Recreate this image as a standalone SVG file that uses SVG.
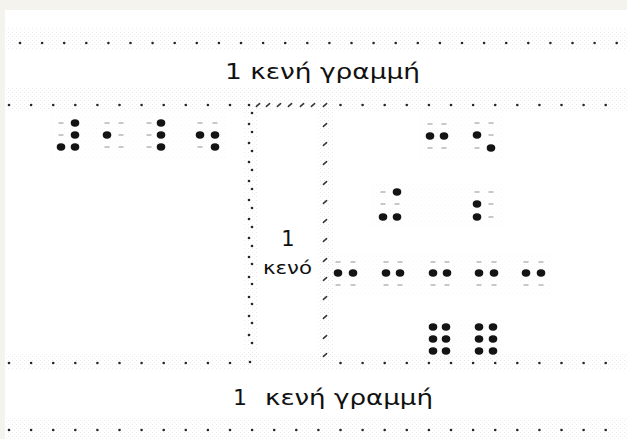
<svg xmlns="http://www.w3.org/2000/svg" width="627" height="439" viewBox="0 0 627 439">
<style>
.t{font-family:"DejaVu Sans","Liberation Sans",sans-serif;fill:#111}
.f{fill:#141414}
.e{fill:#c8c8c8}
.g{fill:#262626}
.s{stroke:#333;stroke-width:1.5;stroke-linecap:round}
.h{fill:url(#hatch);opacity:0.5}
.hc{fill:url(#hatch);opacity:0.22}
</style>
<defs>
<pattern id="hatch" width="4" height="4" patternUnits="userSpaceOnUse">
<rect x="0" y="0" width="1" height="1" fill="#d4d4d4"/>
<rect x="2" y="2" width="1" height="1" fill="#e2e2e2"/>
</pattern>
<ellipse id="F" class="f" cx="0" cy="0" rx="4.3" ry="3.7"/>
<rect id="E" class="e" x="-2.5" y="-1" width="5" height="2"/>
<circle id="G" class="g" cx="0" cy="0" r="1.3"/>
<line id="S" class="s" x1="-1.6" y1="1.4" x2="1.6" y2="-1.4"/>
</defs>

<rect x="0" y="0" width="627" height="439" fill="#f4f3ee"/>
<rect x="5" y="10" width="622" height="429" fill="#ffffff"/>

<g id="texture">
<rect class="h" x="5" y="28" width="622" height="21"/>
<rect class="h" x="5" y="87" width="622" height="24"/>
<rect class="h" x="5" y="354" width="622" height="16"/>
<rect class="h" x="5" y="417" width="622" height="22"/>
<rect class="h" x="243" y="100" width="15" height="265"/>
<rect class="h" x="318" y="100" width="15" height="265"/>
<rect class="hc" x="50" y="112" width="176" height="48"/>
<rect class="hc" x="420" y="112" width="84" height="48"/>
<rect class="hc" x="372" y="182" width="132" height="46"/>
<rect class="hc" x="328" y="252" width="224" height="44"/>
<rect class="hc" x="424" y="317" width="80" height="44"/>
</g>

<g id="row1">
<use href="#G" x="20" y="43"/><use href="#G" x="42.1" y="43"/><use href="#G" x="64.2" y="43"/><use href="#G" x="86.3" y="43"/><use href="#G" x="108.4" y="43"/><use href="#G" x="130.5" y="43"/><use href="#G" x="152.6" y="43"/><use href="#G" x="174.7" y="43"/><use href="#G" x="196.8" y="43"/><use href="#G" x="218.9" y="43"/><use href="#G" x="241" y="43"/><use href="#G" x="263.1" y="43"/><use href="#G" x="285.2" y="43"/><use href="#G" x="307.3" y="43"/><use href="#G" x="329.4" y="43"/><use href="#G" x="351.5" y="43"/><use href="#G" x="373.6" y="43"/><use href="#G" x="395.7" y="43"/><use href="#G" x="417.8" y="43"/><use href="#G" x="439.9" y="43"/><use href="#G" x="462" y="43"/><use href="#G" x="484.1" y="43"/><use href="#G" x="506.2" y="43"/><use href="#G" x="528.3" y="43"/><use href="#G" x="550.4" y="43"/><use href="#G" x="572.5" y="43"/><use href="#G" x="594.6" y="43"/><use href="#G" x="616.7" y="43"/>
</g>

<g id="row2">
<use href="#G" x="9" y="105"/><use href="#G" x="31.1" y="105"/><use href="#G" x="53.2" y="105"/><use href="#G" x="75.3" y="105"/><use href="#G" x="97.4" y="105"/><use href="#G" x="119.5" y="105"/><use href="#G" x="141.6" y="105"/><use href="#G" x="163.7" y="105"/><use href="#G" x="185.8" y="105"/><use href="#G" x="207.9" y="105"/><use href="#G" x="230" y="105"/>
<use href="#G" x="340.5" y="105"/><use href="#G" x="362.6" y="105"/><use href="#G" x="384.7" y="105"/><use href="#G" x="406.8" y="105"/><use href="#G" x="428.9" y="105"/><use href="#G" x="451" y="105"/><use href="#G" x="473.1" y="105"/><use href="#G" x="495.2" y="105"/><use href="#G" x="517.3" y="105"/><use href="#G" x="539.4" y="105"/><use href="#G" x="561.5" y="105"/><use href="#G" x="583.6" y="105"/><use href="#G" x="605.7" y="105"/>
</g>

<g id="row3">
<use href="#G" x="9" y="363"/><use href="#G" x="31.1" y="363"/><use href="#G" x="53.2" y="363"/><use href="#G" x="75.3" y="363"/><use href="#G" x="97.4" y="363"/><use href="#G" x="119.5" y="363"/><use href="#G" x="141.6" y="363"/><use href="#G" x="163.7" y="363"/><use href="#G" x="185.8" y="363"/><use href="#G" x="207.9" y="363"/><use href="#G" x="230" y="363"/>
<use href="#G" x="340.5" y="363"/><use href="#G" x="362.6" y="363"/><use href="#G" x="384.7" y="363"/><use href="#G" x="406.8" y="363"/><use href="#G" x="428.9" y="363"/><use href="#G" x="451" y="363"/><use href="#G" x="473.1" y="363"/><use href="#G" x="495.2" y="363"/><use href="#G" x="517.3" y="363"/><use href="#G" x="539.4" y="363"/><use href="#G" x="561.5" y="363"/><use href="#G" x="583.6" y="363"/><use href="#G" x="605.7" y="363"/>
</g>

<g id="row4">
<use href="#G" x="9" y="430"/><use href="#G" x="31.1" y="430"/><use href="#G" x="53.2" y="430"/><use href="#G" x="75.3" y="430"/><use href="#G" x="97.4" y="430"/><use href="#G" x="119.5" y="430"/><use href="#G" x="141.6" y="430"/><use href="#G" x="163.7" y="430"/><use href="#G" x="185.8" y="430"/><use href="#G" x="207.9" y="430"/><use href="#G" x="230" y="430"/><use href="#G" x="252.1" y="430"/><use href="#G" x="274.2" y="430"/><use href="#G" x="296.3" y="430"/><use href="#G" x="318.4" y="430"/><use href="#G" x="340.5" y="430"/><use href="#G" x="362.6" y="430"/><use href="#G" x="384.7" y="430"/><use href="#G" x="406.8" y="430"/><use href="#G" x="428.9" y="430"/><use href="#G" x="451" y="430"/><use href="#G" x="473.1" y="430"/><use href="#G" x="495.2" y="430"/><use href="#G" x="517.3" y="430"/><use href="#G" x="539.4" y="430"/><use href="#G" x="561.5" y="430"/><use href="#G" x="583.6" y="430"/><use href="#G" x="605.7" y="430"/>
</g>

<g id="blank-cell-box">
<use href="#G" x="249" y="105"/><use href="#G" x="252" y="113"/>
<use href="#G" x="249" y="124"/><use href="#G" x="252" y="132"/>
<use href="#G" x="249" y="143"/><use href="#G" x="252" y="151"/>
<use href="#G" x="249" y="162"/><use href="#G" x="252" y="170"/>
<use href="#G" x="249" y="181"/><use href="#G" x="252" y="189"/>
<use href="#G" x="249" y="200"/><use href="#G" x="252" y="208"/>
<use href="#G" x="249" y="219"/><use href="#G" x="252" y="227"/>
<use href="#G" x="249" y="238"/><use href="#G" x="252" y="246"/>
<use href="#G" x="249" y="257"/><use href="#G" x="252" y="264"/>
<use href="#G" x="249" y="277"/><use href="#G" x="252" y="284"/>
<use href="#G" x="249" y="297"/><use href="#G" x="252" y="304"/>
<use href="#G" x="249" y="316"/><use href="#G" x="252" y="323"/>
<use href="#G" x="249" y="335"/><use href="#G" x="252" y="343"/>
<use href="#G" x="250" y="362"/>
<use href="#S" x="258" y="105"/><use href="#S" x="268" y="105"/><use href="#S" x="279" y="105"/><use href="#S" x="290" y="105"/><use href="#S" x="302" y="105"/><use href="#S" x="313" y="105"/><use href="#S" x="325" y="105"/>
<use href="#S" x="325" y="125"/><use href="#S" x="325" y="144"/><use href="#S" x="325" y="163"/><use href="#S" x="325" y="183"/><use href="#S" x="325" y="202"/><use href="#S" x="325" y="221"/><use href="#S" x="325" y="240"/><use href="#S" x="325" y="260"/><use href="#S" x="325" y="279"/><use href="#S" x="325" y="298"/><use href="#S" x="325" y="317"/><use href="#S" x="325" y="337"/><use href="#S" x="325" y="355"/>
<text class="t" x="288" y="246" font-size="21" text-anchor="middle">1</text>
<text class="t" x="263" y="274" font-size="17" textLength="49" lengthAdjust="spacingAndGlyphs">κενό</text>
</g>

<g id="label-top">
<text class="t" x="225" y="79" font-size="22" textLength="195" lengthAdjust="spacingAndGlyphs">1 κενή γραμμή</text>
</g>

<g id="label-bottom">
<text class="t" x="233" y="405" font-size="22">1<tspan x="265" textLength="168" lengthAdjust="spacingAndGlyphs">κενή γραμμή</tspan></text>
</g>

<g id="cells-left">
<use href="#E" x="61" y="123"/><use href="#F" x="75" y="123"/><use href="#E" x="61" y="135"/><use href="#F" x="75" y="135"/><use href="#F" x="61" y="147"/><use href="#F" x="75" y="147"/>
<use href="#E" x="107" y="123"/><use href="#E" x="121" y="123"/><use href="#F" x="107" y="135"/><use href="#E" x="121" y="135"/><use href="#E" x="107" y="147"/><use href="#E" x="121" y="147"/>
<use href="#E" x="149" y="123"/><use href="#F" x="161" y="123"/><use href="#E" x="149" y="135"/><use href="#F" x="161" y="135"/><use href="#E" x="149" y="147"/><use href="#F" x="161" y="147"/>
<use href="#E" x="200" y="123"/><use href="#E" x="215" y="123"/><use href="#F" x="200" y="135"/><use href="#F" x="215" y="135"/><use href="#E" x="200" y="147"/><use href="#F" x="215" y="147"/>
</g>

<g id="cells-right-1">
<use href="#E" x="430" y="124"/><use href="#E" x="444" y="124"/><use href="#F" x="430" y="136"/><use href="#F" x="444" y="136"/><use href="#E" x="430" y="148"/><use href="#E" x="444" y="148"/>
<use href="#E" x="477" y="123"/><use href="#E" x="491" y="123"/><use href="#F" x="477" y="135"/><use href="#E" x="491" y="135"/><use href="#E" x="477" y="148"/><use href="#F" x="491" y="148"/>
</g>

<g id="cells-right-2">
<use href="#E" x="383" y="192"/><use href="#F" x="397" y="192"/><use href="#E" x="383" y="204"/><use href="#E" x="397" y="204"/><use href="#F" x="383" y="217"/><use href="#F" x="397" y="217"/>
<use href="#E" x="477" y="192"/><use href="#E" x="491" y="192"/><use href="#F" x="477" y="204"/><use href="#E" x="491" y="204"/><use href="#F" x="477" y="217"/><use href="#E" x="491" y="217"/>
</g>

<g id="cells-right-3">
<use href="#E" x="338" y="262"/><use href="#E" x="353" y="262"/><use href="#F" x="338" y="273"/><use href="#F" x="353" y="273"/><use href="#E" x="338" y="285"/><use href="#E" x="353" y="285"/>
<use href="#E" x="386" y="262"/><use href="#E" x="400" y="262"/><use href="#F" x="386" y="273"/><use href="#F" x="400" y="273"/><use href="#E" x="386" y="285"/><use href="#E" x="400" y="285"/>
<use href="#E" x="433" y="262"/><use href="#E" x="447" y="262"/><use href="#F" x="433" y="273"/><use href="#F" x="447" y="273"/><use href="#E" x="433" y="285"/><use href="#E" x="447" y="285"/>
<use href="#E" x="479" y="262"/><use href="#E" x="494" y="262"/><use href="#F" x="479" y="273"/><use href="#F" x="494" y="273"/><use href="#E" x="479" y="285"/><use href="#E" x="494" y="285"/>
<use href="#E" x="526" y="262"/><use href="#E" x="541" y="262"/><use href="#F" x="526" y="273"/><use href="#F" x="541" y="273"/><use href="#E" x="526" y="285"/><use href="#E" x="541" y="285"/>
</g>

<g id="cells-right-4">
<use href="#F" x="433" y="327"/><use href="#F" x="446" y="327"/><use href="#F" x="433" y="339"/><use href="#F" x="446" y="339"/><use href="#F" x="433" y="351"/><use href="#F" x="446" y="351"/>
<use href="#F" x="479" y="327"/><use href="#F" x="493" y="327"/><use href="#F" x="479" y="339"/><use href="#F" x="493" y="339"/><use href="#F" x="479" y="351"/><use href="#F" x="493" y="351"/>
</g>
</svg>
